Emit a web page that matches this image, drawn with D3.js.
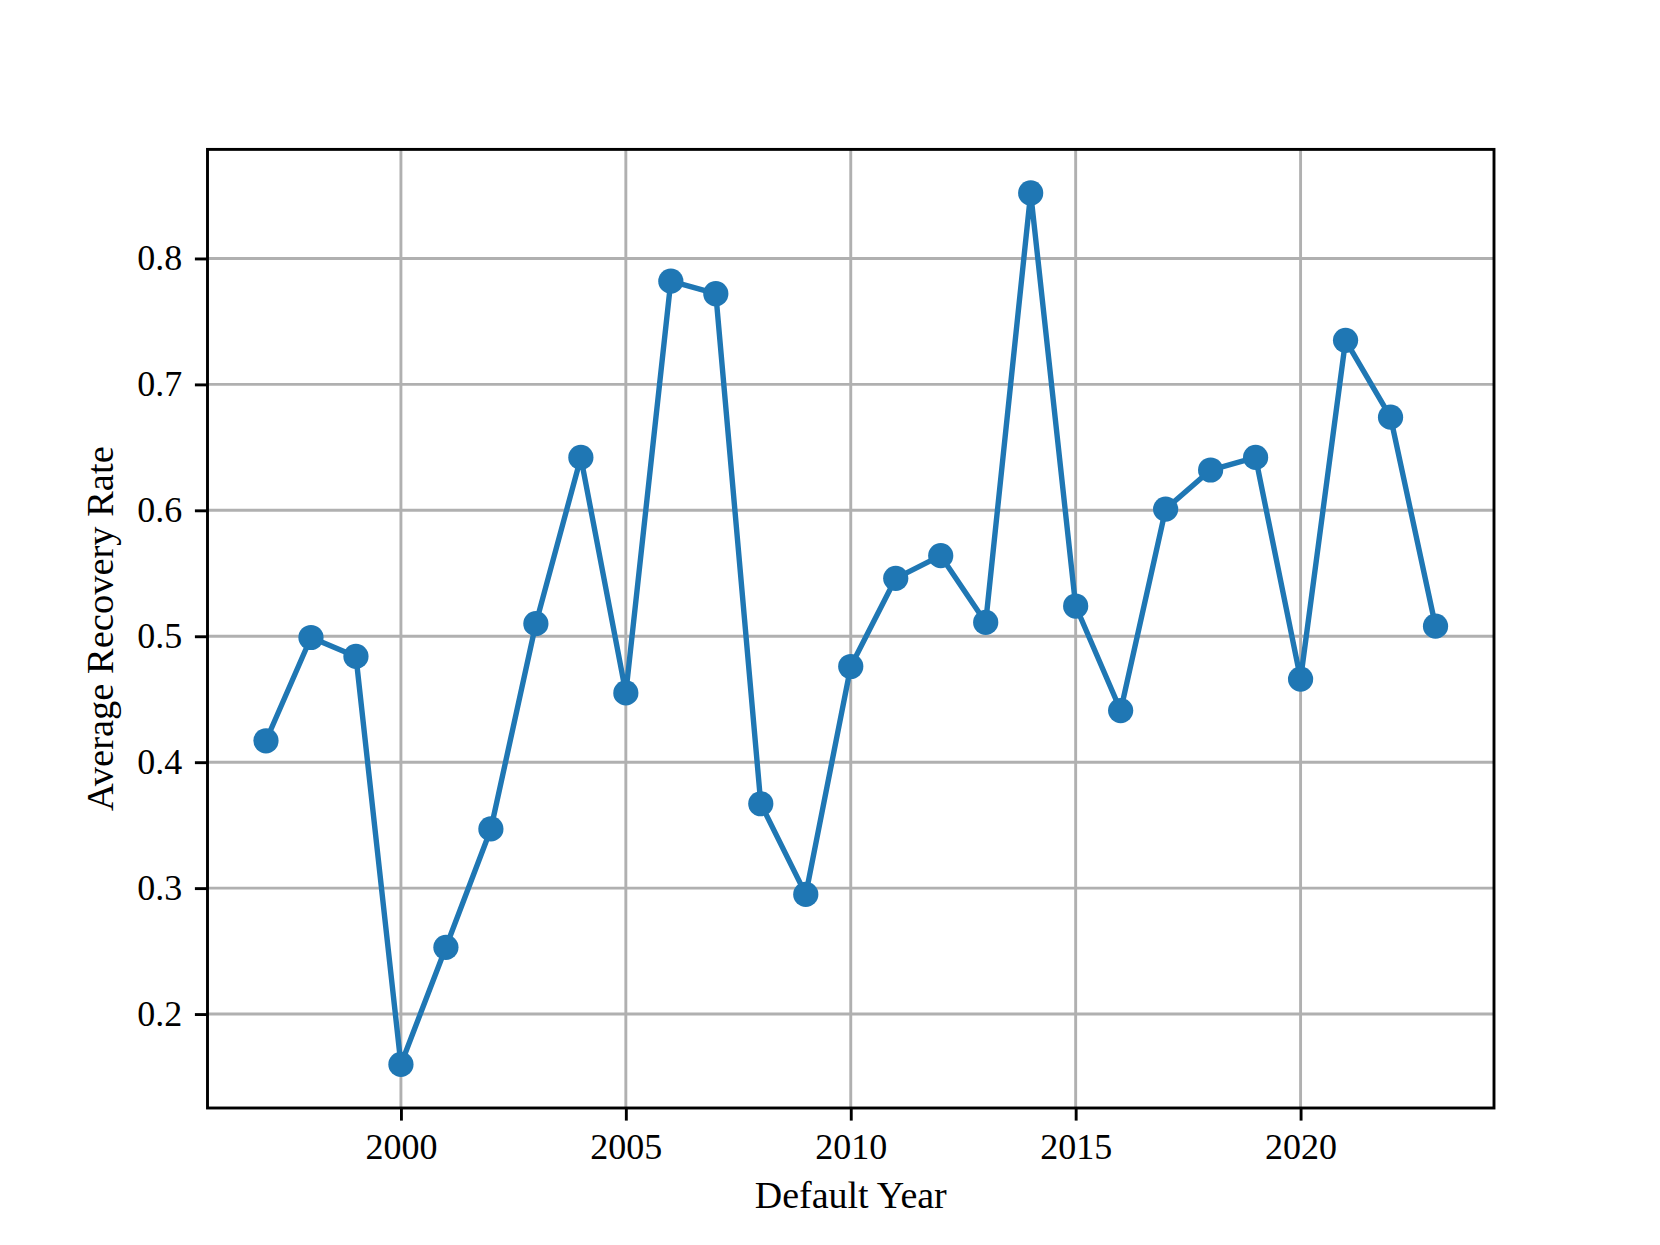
<!DOCTYPE html>
<html lang="en">
<head>
  <meta charset="UTF-8">
  <script src="https://d3js.org/d3.v7.min.js"></script>
  <title>Average Recovery Rate</title>
  <style>
    body { margin: 0; background: #fff; }
    text { font-family: "Liberation Serif", "DejaVu Serif", serif; fill: #000; }
  </style>
</head>
<body>
  <svg id="chart" width="1660" height="1245"></svg>
  <script>
    // data
    var years = [1997, 1998, 1999, 2000, 2001, 2002, 2003, 2004, 2005, 2006, 2007, 2008, 2009,
                 2010, 2011, 2012, 2013, 2014, 2015, 2016, 2017, 2018, 2019, 2020, 2021, 2022, 2023];
    var recovery = [0.417, 0.499, 0.484, 0.160, 0.253, 0.347, 0.510, 0.642, 0.455, 0.782, 0.772, 0.367, 0.295,
                    0.476, 0.546, 0.564, 0.511, 0.852, 0.524, 0.441, 0.601, 0.632, 0.642, 0.466, 0.735, 0.674, 0.508];
    var xTicks = [2000, 2005, 2010, 2015, 2020];
    var yTicks = [0.2, 0.3, 0.4, 0.5, 0.6, 0.7, 0.8];

    var svg = d3.select("#chart"),
      width = +svg.attr("width"),
      height = +svg.attr("height");

    // axes box like matplotlib defaults
    var axLeft = 207.5, axRight = 1494, axTop = 149.4, axBottom = 1108;
    var blue = "#1f77b4";

    var points = years.map(function(y, i) { return { year: y, value: recovery[i] }; });

    // 5% margins on both axes
    var xExt = d3.extent(years), xPad = (xExt[1] - xExt[0]) * 0.05;
    var yExt = d3.extent(recovery), yPad = (yExt[1] - yExt[0]) * 0.05;

    var x = d3.scaleLinear().domain([xExt[0] - xPad, xExt[1] + xPad]).range([axLeft, axRight]);
    var y = d3.scaleLinear().domain([yExt[0] - yPad, yExt[1] + yPad]).range([axBottom, axTop]);

    // grid
    var grid = svg.append("g");
    grid.selectAll(".vgrid").data(xTicks).enter().append("line")
      .attr("x1", function(d) { return x(d); }).attr("x2", function(d) { return x(d); })
      .attr("y1", axTop).attr("y2", axBottom)
      .attr("stroke", "#b0b0b0").attr("stroke-width", 2.9);
    grid.selectAll(".hgrid").data(yTicks).enter().append("line")
      .attr("y1", function(d) { return y(d); }).attr("y2", function(d) { return y(d); })
      .attr("x1", axLeft).attr("x2", axRight)
      .attr("stroke", "#b0b0b0").attr("stroke-width", 2.9);

    // axes
    var xAxis = svg.append("g")
      .attr("transform", "translate(0," + axBottom + ")")
      .call(d3.axisBottom(x).tickValues(xTicks).tickFormat(d3.format("d")).tickSize(12.6).tickPadding(13));
    var yAxis = svg.append("g")
      .attr("transform", "translate(" + axLeft + ",0)")
      .call(d3.axisLeft(y).tickValues(yTicks).tickFormat(d3.format(".1f")).tickSize(12.6).tickPadding(12.6));

    [xAxis, yAxis].forEach(function(a) {
      a.select(".domain").remove();
      a.selectAll(".tick line").attr("stroke", "#000").attr("stroke-width", 2.9);
      a.selectAll(".tick text").style("font-size", "36px").style("font-family", "'Liberation Serif', serif");
    });
    xAxis.selectAll(".tick text").attr("dy", "0.71em");

    // spines
    svg.append("rect")
      .attr("x", axLeft).attr("y", axTop)
      .attr("width", axRight - axLeft).attr("height", axBottom - axTop)
      .attr("fill", "none").attr("stroke", "#000").attr("stroke-width", 2.9);

    // line + markers
    var line = d3.line()
      .x(function(d) { return x(d.year); })
      .y(function(d) { return y(d.value); });

    svg.append("path")
      .datum(points)
      .attr("d", line)
      .attr("fill", "none")
      .attr("stroke", blue)
      .attr("stroke-width", 5.4)
      .attr("stroke-linejoin", "round");

    svg.append("g")
      .selectAll("circle")
      .data(points)
      .enter()
      .append("circle")
        .attr("cx", function(d) { return x(d.year); })
        .attr("cy", function(d) { return y(d.value); })
        .attr("r", 12.6)
        .attr("fill", blue);

    // labels
    svg.append("text")
      .attr("x", (axLeft + axRight) / 2)
      .attr("y", 1208)
      .attr("text-anchor", "middle")
      .style("font-size", "38px")
      .text("Default Year");

    svg.append("text")
      .attr("transform", "translate(113," + ((axTop + axBottom) / 2) + ") rotate(-90)")
      .attr("text-anchor", "middle")
      .style("font-size", "38.5px")
      .text("Average Recovery Rate");
  </script>
</body>
</html>
